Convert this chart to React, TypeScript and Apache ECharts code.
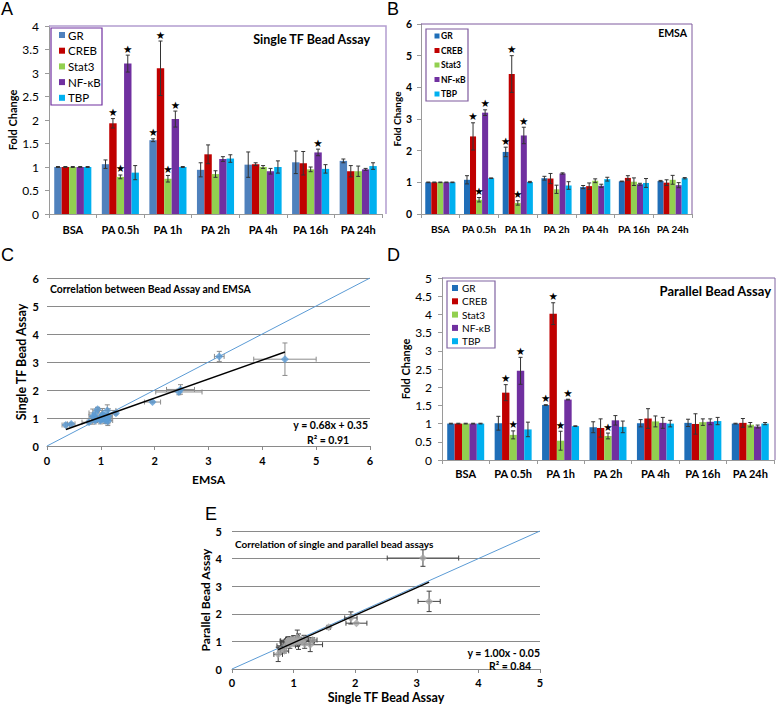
import React, { useEffect, useRef } from "react";
import * as echarts from "echarts";

// ---------------- data ----------------
const categories = ["BSA", "PA 0.5h", "PA 1h", "PA 2h", "PA 4h", "PA 16h", "PA 24h"];
const tfNames = ["GR", "CREB", "Stat3", "NF-κB", "TBP"];

// Panel A: Single TF Bead Assay (fold change, error)
const singleGR = [1.0, 1.06, 1.57, 0.94, 1.05, 1.1, 1.13];
const singleGRErr = [0.01, 0.09, 0.03, 0.15, 0.27, 0.24, 0.04];
const singleCREB = [1.0, 1.93, 3.1, 1.27, 1.06, 1.08, 0.91];
const singleCREBErr = [0.01, 0.1, 0.58, 0.2, 0.03, 0.25, 0.12];
const singleStat3 = [1.0, 0.79, 0.75, 0.85, 1.0, 0.95, 0.91];
const singleStat3Err = [0.01, 0.04, 0.07, 0.07, 0.03, 0.05, 0.11];
const singleNFkB = [1.0, 3.2, 2.02, 1.17, 0.91, 1.31, 0.95];
const singleNFkBErr = [0.01, 0.18, 0.17, 0.05, 0.06, 0.07, 0.02];
const singleTBP = [1.0, 0.88, 1.0, 1.18, 1.0, 0.96, 1.02];
const singleTBPErr = [0.01, 0.15, 0.01, 0.08, 0.13, 0.09, 0.07];
const singleStars = [
  ["CREB", "PA 0.5h"], ["Stat3", "PA 0.5h"], ["NF-κB", "PA 0.5h"],
  ["GR", "PA 1h"], ["CREB", "PA 1h"], ["Stat3", "PA 1h"], ["NF-κB", "PA 1h"],
  ["NF-κB", "PA 16h"],
];

// Panel B: EMSA
const emsaGR = [1.0, 1.08, 1.96, 1.13, 0.85, 1.03, 1.04];
const emsaGRErr = [0.01, 0.13, 0.15, 0.06, 0.05, 0.01, 0.02];
const emsaCREB = [1.0, 2.45, 4.42, 1.12, 0.88, 1.14, 0.99];
const emsaCREBErr = [0.01, 0.43, 0.58, 0.16, 0.1, 0.07, 0.09];
const emsaStat3 = [1.0, 0.45, 0.35, 0.78, 1.05, 1.02, 1.08];
const emsaStat3Err = [0.01, 0.07, 0.07, 0.13, 0.06, 0.12, 0.14];
const emsaNFkB = [1.0, 3.2, 2.48, 1.28, 0.89, 0.94, 0.91];
const emsaNFkBErr = [0.01, 0.09, 0.26, 0.02, 0.05, 0.03, 0.08];
const emsaTBP = [1.0, 1.13, 1.01, 0.9, 1.1, 0.98, 1.13];
const emsaTBPErr = [0.01, 0.01, 0.02, 0.12, 0.06, 0.14, 0.02];
const emsaStars = [
  ["CREB", "PA 0.5h"], ["Stat3", "PA 0.5h"], ["NF-κB", "PA 0.5h"],
  ["GR", "PA 1h"], ["CREB", "PA 1h"], ["Stat3", "PA 1h"], ["NF-κB", "PA 1h"],
];

// Panel D: Parallel Bead Assay
const parallelGR = [1.0, 1.01, 1.51, 0.9, 1.01, 1.02, 1.0];
const parallelGRErr = [0.01, 0.19, 0.01, 0.15, 0.1, 0.1, 0.01];
const parallelCREB = [1.0, 1.85, 4.02, 0.88, 1.14, 0.99, 1.02];
const parallelCREBErr = [0.01, 0.22, 0.3, 0.25, 0.27, 0.28, 0.12];
const parallelStat3 = [1.0, 0.69, 0.53, 0.66, 1.06, 1.04, 0.97];
const parallelStat3Err = [0.01, 0.11, 0.26, 0.08, 0.15, 0.09, 0.06];
const parallelNFkB = [1.0, 2.45, 1.66, 1.09, 1.02, 1.05, 0.92];
const parallelNFkBErr = [0.01, 0.37, 0.01, 0.13, 0.15, 0.08, 0.04];
const parallelTBP = [1.0, 0.84, 0.93, 0.91, 1.0, 1.07, 1.0];
const parallelTBPErr = [0.01, 0.2, 0.01, 0.16, 0.09, 0.1, 0.03];
const parallelStars = [
  ["CREB", "PA 0.5h"], ["Stat3", "PA 0.5h"], ["NF-κB", "PA 0.5h"],
  ["GR", "PA 1h"], ["CREB", "PA 1h"], ["Stat3", "PA 1h"], ["NF-κB", "PA 1h"],
  ["Stat3", "PA 2h"],
];

// Trendlines reported on the figure
const trendC = { slope: 0.68, intercept: 0.35, label: "y = 0.68x + 0.35", r2: "R² = 0.91" };
const trendE = { slope: 1.0, intercept: -0.05, label: "y = 1.00x - 0.05", r2: "R² = 0.84" };

// ---------------- styling ----------------
const FONT = "Lato, 'Open Sans', sans-serif";
const colorsA = ["#4F81BD", "#C00000", "#92D050", "#7030A0", "#00B0F0"];
const colorsBD = ["#1F6EB8", "#C00000", "#92D050", "#7030A0", "#00B0F0"];

const singleMeans = [singleGR, singleCREB, singleStat3, singleNFkB, singleTBP];
const singleErrs = [singleGRErr, singleCREBErr, singleStat3Err, singleNFkBErr, singleTBPErr];
const emsaMeans = [emsaGR, emsaCREB, emsaStat3, emsaNFkB, emsaTBP];
const emsaErrs = [emsaGRErr, emsaCREBErr, emsaStat3Err, emsaNFkBErr, emsaTBPErr];
const parallelMeans = [parallelGR, parallelCREB, parallelStat3, parallelNFkB, parallelTBP];
const parallelErrs = [parallelGRErr, parallelCREBErr, parallelStat3Err, parallelNFkBErr, parallelTBPErr];

const GAP = 0.22;

function barErrRender(k: number, n: number, color: string) {
  return (params: any, api: any) => {
    const ci = api.value(0);
    const v = api.value(1);
    const e = api.value(2);
    const star = api.value(3);
    const band = api.size([1, 0])[0];
    const group = band * (1 - GAP);
    const bw = group / n;
    const cx = api.coord([ci, v])[0] - group / 2 + bw * (k + 0.5);
    const yTop = api.coord([ci, v + e])[1];
    const yBot = api.coord([ci, v - e])[1];
    const cap = 2;
    const st = { stroke: color, lineWidth: 1 };
    const children: any[] = [
      { type: "line", shape: { x1: cx, y1: yTop, x2: cx, y2: yBot }, style: st },
      { type: "line", shape: { x1: cx - cap, y1: yTop, x2: cx + cap, y2: yTop }, style: st },
      { type: "line", shape: { x1: cx - cap, y1: yBot, x2: cx + cap, y2: yBot }, style: st },
    ];
    if (star) {
      children.push({
        type: "text",
        x: cx,
        y: yTop - 1,
        style: { text: "★", fill: "#000", fontSize: 10.5, fontFamily: "DejaVu Sans", align: "center", verticalAlign: "bottom" },
      });
    }
    return { type: "group", children };
  };
}

function xyErrRender(color: string) {
  return (params: any, api: any) => {
    const x = api.value(0);
    const y = api.value(1);
    const ex = api.value(2);
    const ey = api.value(3);
    const l = api.coord([x - ex, y]);
    const r = api.coord([x + ex, y]);
    const t = api.coord([x, y + ey]);
    const b = api.coord([x, y - ey]);
    const cap = 2.5;
    const st = { stroke: color, lineWidth: 1 };
    return {
      type: "group",
      children: [
        { type: "line", shape: { x1: l[0], y1: l[1], x2: r[0], y2: r[1] }, style: st },
        { type: "line", shape: { x1: l[0], y1: l[1] - cap, x2: l[0], y2: l[1] + cap }, style: st },
        { type: "line", shape: { x1: r[0], y1: r[1] - cap, x2: r[0], y2: r[1] + cap }, style: st },
        { type: "line", shape: { x1: t[0], y1: t[1], x2: b[0], y2: b[1] }, style: st },
        { type: "line", shape: { x1: t[0] - cap, y1: t[1], x2: t[0] + cap, y2: t[1] }, style: st },
        { type: "line", shape: { x1: b[0] - cap, y1: b[1], x2: b[0] + cap, y2: b[1] }, style: st },
      ],
    };
  };
}

function barPanelSeries(gi: number, means: number[][], errs: number[][], colors: string[], stars: string[][], errColor: string) {
  const out: any[] = [];
  means.forEach((vals, k) => {
    out.push({
      type: "bar",
      name: tfNames[k],
      xAxisIndex: gi,
      yAxisIndex: gi,
      data: vals,
      barGap: "0%",
      barCategoryGap: GAP * 100 + "%",
      itemStyle: { color: colors[k] },
      z: 2,
    });
  });
  means.forEach((vals, k) => {
    out.push({
      type: "custom",
      xAxisIndex: gi,
      yAxisIndex: gi,
      renderItem: barErrRender(k, means.length, errColor),
      encode: { x: 0, y: 1 },
      data: vals.map((v, c) => [
        c,
        v,
        errs[k][c],
        stars.some((s) => s[0] === tfNames[k] && s[1] === categories[c]) ? 1 : 0,
      ]),
      z: 3,
    });
  });
  return out;
}

function pairPoints(xm: number[][], xe: number[][], ym: number[][], ye: number[][]) {
  const pts: number[][] = [];
  xm.forEach((row, k) => row.forEach((x, c) => pts.push([x, ym[k][c], xe[k][c], ye[k][c]])));
  return pts;
}

function scatterSeries(gi: number, pts: number[][], pointColor: string, errColor: string, trend: any, identityMax: number) {
  const xs = pts.map((p) => p[0]);
  const x0 = Math.min(...xs);
  const x1 = Math.max(...xs);
  return [
    {
      type: "line", xAxisIndex: gi, yAxisIndex: gi, symbol: "none", silent: true,
      data: [[0, 0], [identityMax, identityMax]],
      lineStyle: { color: "#5B9BD5", width: 1 }, z: 1,
    },
    {
      type: "custom", xAxisIndex: gi, yAxisIndex: gi, encode: { x: 0, y: 1 },
      renderItem: xyErrRender(errColor), data: pts, z: 2,
    },
    {
      type: "scatter", xAxisIndex: gi, yAxisIndex: gi, symbol: "diamond", symbolSize: 8,
      itemStyle: { color: pointColor }, data: pts.map((p) => [p[0], p[1]]), z: 3,
    },
    {
      type: "line", xAxisIndex: gi, yAxisIndex: gi, symbol: "none", silent: true,
      data: [[x0, trend.slope * x0 + trend.intercept], [x1, trend.slope * x1 + trend.intercept]],
      lineStyle: { color: "#000", width: 1.5 }, z: 4,
    },
  ];
}

function legendGraphic(x: number, y: number, w: number, h: number, firstY: number, step: number, markerX: number, marker: number, textX: number, fontSize: number, bold: boolean, colors: string[], border: string) {
  const children: any[] = [
    { type: "rect", shape: { x, y, width: w, height: h }, style: { fill: "#fff", stroke: border, lineWidth: 1.2 } },
  ];
  tfNames.forEach((n, k) => {
    const cy = firstY + step * k;
    children.push({ type: "rect", shape: { x: markerX - marker / 2, y: cy - marker / 2, width: marker, height: marker }, style: { fill: colors[k] } });
    children.push({
      type: "text", x: textX, y: cy,
      style: { text: n, fill: "#000", fontSize, fontFamily: FONT, fontWeight: bold ? "bold" : "normal", align: "left", verticalAlign: "middle" },
    });
  });
  return { type: "group", children, z: 10 };
}

function txt(x: number, y: number, text: string, fontSize: number, opts: any = {}) {
  return {
    type: "text", x, y, z: 10,
    style: {
      text, fill: "#000", fontSize, fontFamily: opts.family || FONT, fontWeight: opts.weight || "bold",
      align: opts.align || "left", verticalAlign: "middle",
    },
  };
}

function border(x0: number, y0: number, x1: number, y1: number, color: string, w: number) {
  return { type: "polyline", z: 5, shape: { points: [[x0, y0], [x1, y0], [x1, y1]] }, style: { fill: "none", stroke: color, lineWidth: w } };
}

function catAxis(gi: number, margin: number, fontSize: number) {
  return {
    type: "category", gridIndex: gi, data: categories,
    axisLine: { show: true, lineStyle: { color: "#9a9a9a" } },
    axisTick: { show: true, length: 4, lineStyle: { color: "#9a9a9a" } },
    axisLabel: { interval: 0, margin, fontSize, fontWeight: "bold", fontFamily: FONT, color: "#000" },
  };
}

function valAxis(gi: number, max: number, interval: number, fontSize: number, weight: string, margin: number, name: string, nameGap: number, nameSize: number, split: boolean, line: boolean) {
  return {
    type: "value", gridIndex: gi, min: 0, max, interval,
    name, nameLocation: "middle", nameGap,
    nameTextStyle: { fontFamily: FONT, fontWeight: "bold", fontSize: nameSize, color: "#000" },
    axisLine: { show: line, lineStyle: { color: "#9a9a9a" } },
    axisTick: { show: line, length: 4, lineStyle: { color: "#9a9a9a" } },
    splitLine: { show: split, lineStyle: { color: "#8a8a8a", width: 1 } },
    axisLabel: { fontSize, fontWeight: weight, fontFamily: FONT, color: "#000", margin },
  };
}

function xValAxis(gi: number, max: number, fontSize: number, margin: number, name: string, nameGap: number, nameSize: number) {
  return {
    type: "value", gridIndex: gi, min: 0, max, interval: 1,
    name, nameLocation: "middle", nameGap,
    nameTextStyle: { fontFamily: FONT, fontWeight: "bold", fontSize: nameSize, color: "#000" },
    axisLine: { show: true, lineStyle: { color: "#8a8a8a" } },
    axisTick: { show: true, length: 4, lineStyle: { color: "#8a8a8a" } },
    splitLine: { show: false },
    axisLabel: { fontSize, fontWeight: "bold", fontFamily: FONT, color: "#000", margin },
  };
}

export default function App() {
  const ref = useRef<HTMLDivElement>(null);
  useEffect(() => {
    if (!ref.current) return;
    const chart = echarts.init(ref.current, undefined, { renderer: "svg" });
    const ptsC = pairPoints(emsaMeans, emsaErrs, singleMeans, singleErrs);
    const ptsE = pairPoints(singleMeans, singleErrs, parallelMeans, parallelErrs);
    const option: any = {
      animation: false,
      backgroundColor: "#fff",
      grid: [
        { left: 49, top: 26, width: 333, height: 188 },
        { left: 421, top: 24, width: 271, height: 190 },
        { left: 47, top: 278, width: 323, height: 168 },
        { left: 442, top: 278, width: 332, height: 182 },
        { left: 232, top: 531, width: 308, height: 140 },
      ],
      xAxis: [
        catAxis(0, 10, 11),
        catAxis(1, 10, 10),
        xValAxis(2, 6, 11, 9, "EMSA", 27, 12),
        catAxis(3, 8, 11),
        xValAxis(4, 5, 11, 8, "Single TF Bead Assay", 22, 12.5),
      ],
      yAxis: [
        valAxis(0, 4, 0.5, 12, "normal", 10, "Fold Change", 31, 11, false, true),
        valAxis(1, 6, 1, 10.5, "bold", 9, "Fold Change", 16, 10, false, true),
        valAxis(2, 6, 1, 11, "bold", 8, "Single TF Bead Assay", 19, 12.5, true, false),
        valAxis(3, 5, 0.5, 12, "normal", 10, "Fold Change", 27, 11, false, true),
        valAxis(4, 5, 1, 11, "bold", 10, "Parallel Bead Assay", 18, 12, true, false),
      ],
      series: [
        ...barPanelSeries(0, singleMeans, singleErrs, colorsA, singleStars, "#333"),
        ...barPanelSeries(1, emsaMeans, emsaErrs, colorsBD, emsaStars, "#333"),
        ...barPanelSeries(3, parallelMeans, parallelErrs, colorsBD, parallelStars, "#333"),
        ...scatterSeries(2, ptsC, "#5B9BD5", "#8c8c8c", trendC, 6),
        ...scatterSeries(4, ptsE, "#A5A5A5", "#404040", trendE, 5),
      ],
      graphic: [
        txt(1, 9, "A", 18, { weight: "normal", family: "Liberation Sans" }),
        txt(387, 9, "B", 18, { weight: "normal", family: "Liberation Sans" }),
        txt(1, 255, "C", 18, { weight: "normal", family: "Liberation Sans" }),
        txt(387, 255, "D", 18, { weight: "normal", family: "Liberation Sans" }),
        txt(205, 514, "E", 18, { weight: "normal", family: "Liberation Sans" }),
        border(49, 26, 386, 214, "#B39DD0", 1.5),
        border(421, 24, 692, 214, "#7F5A9E", 1),
        border(442, 278, 775, 460, "#8064A2", 1),
        legendGraphic(51, 28, 51, 77, 35, 15.7, 62, 6, 68, 11.5, false, colorsA, "#7030A0"),
        legendGraphic(426, 29, 42, 72, 36, 14.5, 437, 5, 441, 8.5, true, colorsBD, "#7F5A9E"),
        legendGraphic(447, 281, 48, 67, 288, 13.3, 455, 6, 462, 10, false, colorsBD, "#8064A2"),
        txt(370, 39, "Single TF Bead Assay", 12.5, { align: "right" }),
        txt(687, 33, "EMSA", 10.5, { align: "right" }),
        txt(771, 291, "Parallel Bead Assay", 13, { align: "right" }),
        txt(50, 289, "Correlation between Bead Assay and EMSA", 10.4),
        txt(368, 425, trendC.label, 10.5, { align: "right" }),
        txt(328, 440, trendC.r2, 10.5, { align: "center" }),
        txt(235, 544, "Correlation of single and parallel bead assays", 10),
        txt(540, 653, trendE.label, 10.5, { align: "right" }),
        txt(510, 666, trendE.r2, 10.5, { align: "center" }),
      ],
    };
    chart.setOption(option);
    return () => chart.dispose();
  }, []);
  return <div ref={ref} style={{ position: "absolute", left: 0, top: 0, width: 778, height: 705 }} />;
}
